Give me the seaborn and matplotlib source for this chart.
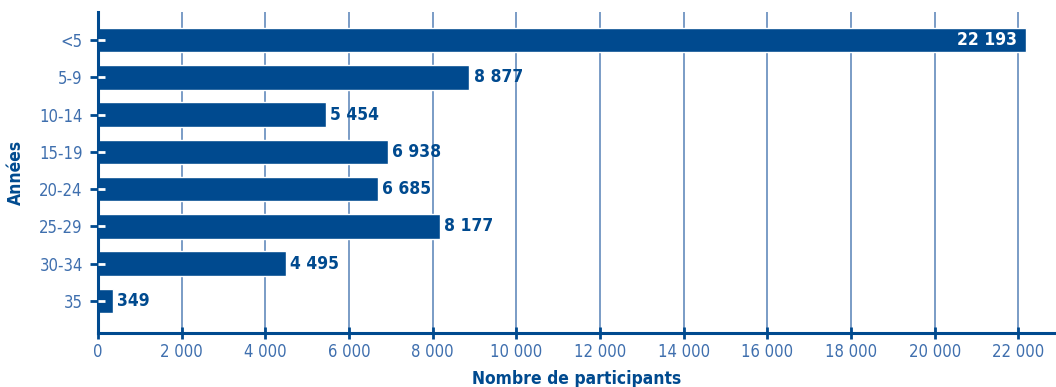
import matplotlib
matplotlib.use("Agg")
import matplotlib.pyplot as plt
import seaborn as sns
import pandas as pd
from matplotlib.ticker import FixedLocator, FuncFormatter

categories = ["<5", "5-9", "10-14", "15-19", "20-24", "25-29", "30-34", "35"]
values = [22193, 8877, 5454, 6938, 6685, 8177, 4495, 349]
xticks = list(range(0, 22001, 2000))

df = pd.DataFrame({"Années": categories, "Nombre": values})

sns.set_theme(style="white")
plt.rcParams['font.family'] = ['Liberation Sans Narrow', 'DejaVu Sans']
plt.rcParams['font.stretch'] = 'condensed'

DARK = "#004a8f"
TICK = "#3f6fae"
GRID = "#7a9cc6"

fig = plt.figure(figsize=(10.56, 3.87), dpi=100)
pos = [98/1056, 54/387, 1 - 98/1056, (333-12)/387]
ax = fig.add_axes(pos)

sns.barplot(data=df, x="Nombre", y="Années", orient="h", color=DARK,
            saturation=1, width=0.66, ax=ax, zorder=3)

ax.set_xlim(0, 22900)
ax.set_ylim(7.86, -0.75)

ax.xaxis.set_major_locator(FixedLocator(xticks))
ax.xaxis.set_major_formatter(FuncFormatter(lambda v, p: f"{int(v):,}".replace(",", " ")))
ax.grid(axis="x", color=GRID, linewidth=1.4, zorder=0)
ax.grid(axis="y", visible=False)
ax.set_axisbelow(True)

for s in ["top", "right"]:
    ax.spines[s].set_visible(False)
for s in ["left", "bottom"]:
    ax.spines[s].set_color(DARK)
    ax.spines[s].set_linewidth(2.2)
    ax.spines[s].set_zorder(4)

ax.tick_params(axis="x", which="major", bottom=True, direction="inout", length=9, width=2,
               color=DARK, labelcolor=TICK, labelsize=12, pad=3)
ax.tick_params(axis="y", which="major", left=True, direction="out", length=6, width=2,
               color=DARK, labelcolor=TICK, labelsize=12, pad=5)

# overlay axes carrying the white inner tick segments over the bars
ov = fig.add_axes(pos, sharey=ax)
ov.patch.set_visible(False)
ov.set_xlim(ax.get_xlim())
for s in ov.spines.values():
    s.set_visible(False)
ov.grid(False)
ov.set_xticks([])
ov.tick_params(axis="y", left=True, direction="in", length=5, width=2,
               color="white", labelleft=False)
ov.set_xlabel("")
ov.set_ylabel("")

for i, (c, v) in enumerate(zip(categories, values)):
    lab = f"{v:,}".replace(",", " ")
    if i == 0:
        ax.annotate(lab, (v, i), xytext=(-7, 0), textcoords="offset points",
                    ha="right", va="center", color="white", fontsize=12.5,
                    fontweight="bold", zorder=7)
    else:
        ax.annotate(lab, (v, i), xytext=(3, 0), textcoords="offset points",
                    ha="left", va="center", color=DARK, fontsize=12.5,
                    fontweight="bold", zorder=7)

ax.set_xlabel("Nombre de participants", color=DARK, fontsize=12.5,
              fontweight="bold", labelpad=6)
ax.set_ylabel("Années", color=DARK, fontsize=12.5, fontweight="bold", labelpad=10)

fig.savefig("out.png", dpi=100)
